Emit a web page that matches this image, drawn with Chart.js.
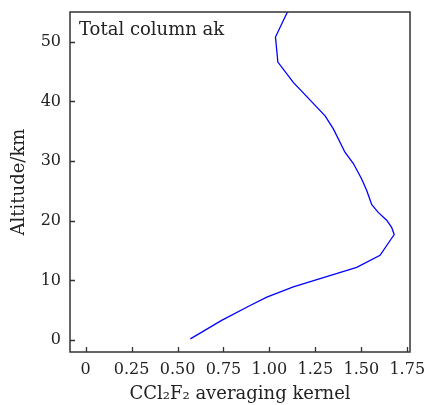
<!DOCTYPE html>
<html lang="en">
<head>
  <meta charset="UTF-8" />
  <title>Total column averaging kernel</title>
  <script src="https://cdn.jsdelivr.net/npm/chart.js"></script>
  <style>
    html, body {
      margin: 0;
      padding: 0;
      background: #ffffff;
    }
    .chart-box {
      width: 427px;
      height: 405px;
    }
  </style>
</head>
<body>
  <div class="chart-box">
    <canvas id="akChart"></canvas>
  </div>

<script>
  // averaging kernel values
  const kernel = [0.57, 0.74, 0.895, 0.986, 1.13, 1.276, 1.475, 1.602, 1.679, 1.665, 1.638,
                  1.592, 1.557, 1.529, 1.502, 1.457, 1.411, 1.348, 1.303, 1.13, 1.046, 1.033, 1.098];
  const altitude = [0.2, 3.3, 5.8, 7.2, 8.9, 10.3, 12.2, 14.2, 17.7, 18.9, 20.1,
                    21.4, 22.7, 25.1, 27.0, 29.6, 31.5, 35.4, 37.6, 43.2, 46.6, 50.8, 55.0];

  const xTicks = [0, 0.25, 0.5, 0.75, 1.0, 1.25, 1.5, 1.75];
  const xTickLabels = ['0', '0.25', '0.50', '0.75', '1.00', '1.25', '1.50', '1.75'];
  const yTicks = [0, 10, 20, 30, 40, 50];
  const label = 'Total column ak';

  const FONT = "'DejaVu Serif', 'Liberation Serif', serif";
  const INK = '#222';

  // frame + inward ticks + corner label
  const framePlugin = {
    id: 'frame',
    afterDraw(chart) {
      const { ctx, chartArea: a, scales } = chart;
      ctx.save();
      ctx.strokeStyle = '#333';
      ctx.lineWidth = 1.5;
      ctx.strokeRect(a.left, a.top, a.right - a.left, a.bottom - a.top);

      ctx.lineWidth = 1.3;
      ctx.beginPath();
      xTicks.forEach(v => {
        const px = Math.round(scales.x.getPixelForValue(v)) + 0.5;
        ctx.moveTo(px, a.bottom);
        ctx.lineTo(px, a.bottom - 5);
      });
      yTicks.forEach(v => {
        const py = Math.round(scales.y.getPixelForValue(v)) + 0.5;
        ctx.moveTo(a.left, py);
        ctx.lineTo(a.left + 5, py);
      });
      ctx.stroke();

      ctx.fillStyle = INK;
      ctx.font = `18px ${FONT}`;
      ctx.textBaseline = 'alphabetic';
      ctx.fillText(label, a.left + 9, a.top + 23);
      ctx.restore();
    }
  };

  const ctx = document.getElementById('akChart').getContext('2d');
  new Chart(ctx, {
    type: 'scatter',
    data: {
      datasets: [{
        data: kernel.map((k, i) => ({ x: k, y: altitude[i] })),
        showLine: true,
        borderColor: '#0000ff',
        borderWidth: 1.3,
        pointRadius: 0,
        tension: 0,
        fill: false
      }]
    },
    options: {
      responsive: true,
      maintainAspectRatio: false,
      animation: false,
      layout: { padding: { left: 0, right: 17, top: 12, bottom: 0 } },
      plugins: {
        legend: { display: false },
        tooltip: { enabled: false }
      },
      scales: {
        x: {
          type: 'linear',
          min: -0.085,
          max: 1.765,
          afterBuildTicks: scale => { scale.ticks = xTicks.map(v => ({ value: v })); },
          afterFit: scale => {
            scale.height = 53;
            scale.paddingLeft = 0;
            scale.paddingRight = 0;
          },
          grid: { display: false, drawTicks: false },
          border: { display: false },
          ticks: {
            padding: 8,
            maxRotation: 0,
            autoSkip: false,
            color: INK,
            font: { family: FONT, size: 16 },
            callback: v => xTickLabels[xTicks.indexOf(v)]
          },
          title: {
            display: true,
            text: 'CCl₂F₂ averaging kernel',
            color: INK,
            font: { family: FONT, size: 18 },
            padding: { top: 0, bottom: 0 }
          }
        },
        y: {
          type: 'linear',
          min: -2,
          max: 55,
          afterBuildTicks: scale => { scale.ticks = yTicks.map(v => ({ value: v })); },
          afterFit: scale => {
            scale.width = 70;
            scale.paddingTop = 0;
            scale.paddingBottom = 0;
          },
          grid: { display: false, drawTicks: false },
          border: { display: false },
          ticks: {
            padding: 9,
            autoSkip: false,
            color: INK,
            font: { family: FONT, size: 16 }
          },
          title: {
            display: true,
            text: 'Altitude/km',
            color: INK,
            font: { family: FONT, size: 18 },
            padding: { top: 9, bottom: 0 }
          }
        }
      }
    },
    plugins: [framePlugin]
  });
</script>
</body>
</html>
